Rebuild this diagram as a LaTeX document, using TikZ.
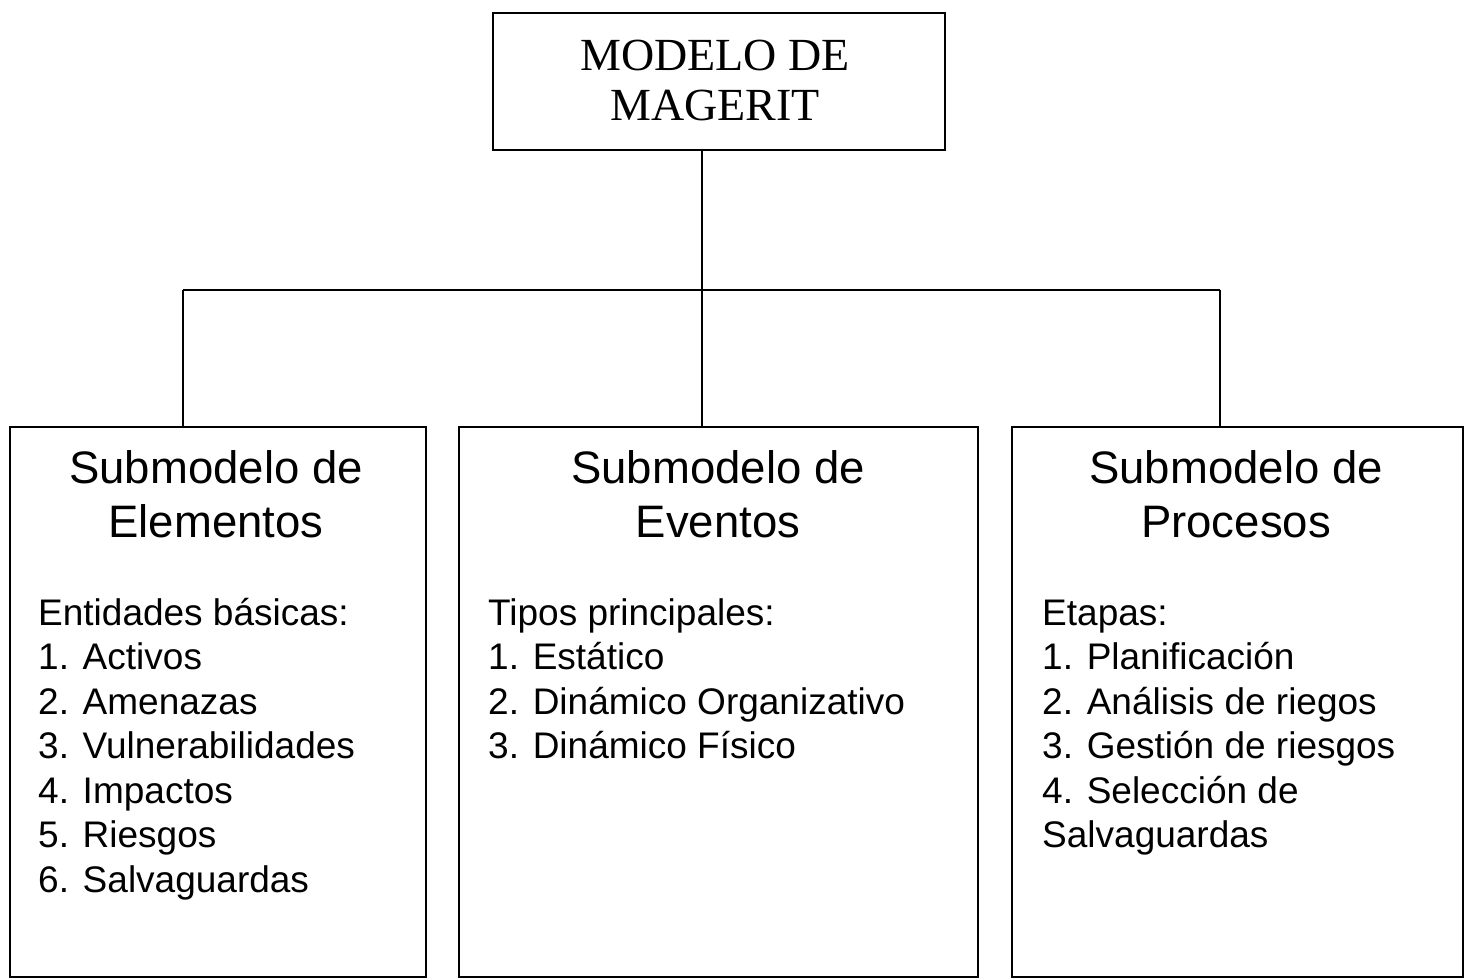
\documentclass[tikz,border=0pt]{standalone}
\usepackage{fontspec}
\setmainfont{Liberation Serif}
\setsansfont{Liberation Sans}
\begin{document}
\begin{tikzpicture}[x=1pt,y=-1pt,
  box/.style={draw, line width=2pt, inner sep=0pt},
  toptext/.style={font=\rmfamily\fontsize{46}{50}\selectfont, anchor=base, inner sep=0pt},
  title/.style={font=\sffamily\fontsize{45.5}{54}\selectfont, anchor=base, inner sep=0pt},
  item/.style={font=\sffamily\fontsize{37}{44}\selectfont, anchor=base west, inner sep=0pt},
  link/.style={line width=2pt}]
\useasboundingbox (0,0) rectangle (1471,977);
\clip (0,0) rectangle (1471,977);
\fill[white] (0,0) rectangle (1471,977);

% top box
\node[box, minimum width=452pt, minimum height=137pt] (top) at (719,81.5) {};
\node[toptext] (t1) at (715,70) {MODELO DE};
\node[toptext] (t2) at (715,120) {MAGERIT};

% sub-model boxes
\node[box, minimum width=416pt, minimum height=550pt] (b1) at (218,702) {};
\node[box, minimum width=519pt, minimum height=550pt] (b2) at (718.5,702) {};
\node[box, minimum width=451pt, minimum height=550pt] (b3) at (1237.5,702) {};

% connectors
\coordinate (hub) at (702,290);
\coordinate (jl) at (183,290);
\coordinate (jr) at (1220,290);
\draw[link] (top.south -| hub) -- (hub);
\draw[link] (jl) -- (jr);
\draw[link] (jl) -- (jl |- b1.north);
\draw[link] (hub) -- (hub |- b2.north);
\draw[link] (jr) -- (jr |- b3.north);

% titles
\node[title] (h1a) at (216,483) {Submodelo de};
\node[title] (h1b) at (216,537) {Elementos};
\node[title] (h2a) at (718,483) {Submodelo de};
\node[title] (h2b) at (718,537) {Eventos};
\node[title] (h3a) at (1236,483) {Submodelo de};
\node[title] (h3b) at (1236,537) {Procesos};

% box 1 list
\node[item] (e0) at (38,625) {Entidades básicas:};
\node[item] (e1) at (38,669.5) {1. Activos};
\node[item] (e2) at (38,714) {2. Amenazas};
\node[item] (e3) at (38,758.5) {3. Vulnerabilidades};
\node[item] (e4) at (38,803) {4. Impactos};
\node[item] (e5) at (38,847.5) {5. Riesgos};
\node[item] (e6) at (38,892) {6. Salvaguardas};

% box 2 list
\node[item] (v0) at (488,625) {Tipos principales:};
\node[item] (v1) at (488,669.5) {1. Estático};
\node[item] (v2) at (488,714) {2. Dinámico Organizativo};
\node[item] (v3) at (488,758.5) {3. Dinámico Físico};

% box 3 list
\node[item] (p0) at (1042,625) {Etapas:};
\node[item] (p1) at (1042,669.5) {1. Planificación};
\node[item] (p2) at (1042,714) {2. Análisis de riegos};
\node[item] (p3) at (1042,758.5) {3. Gestión de riesgos};
\node[item] (p4) at (1042,803) {4. Selección de};
\node[item] (p5) at (1042,847.5) {Salvaguardas};
\end{tikzpicture}
\end{document}
